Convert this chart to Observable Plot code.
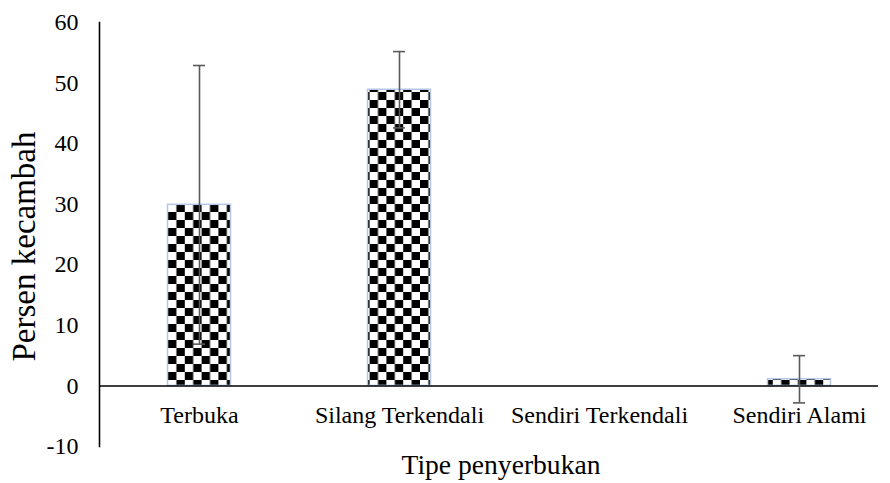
<!DOCTYPE html>
<html>
<head>
<meta charset="utf-8">
<script src="https://cdn.jsdelivr.net/npm/d3@7"></script>
<script src="https://cdn.jsdelivr.net/npm/@observablehq/plot@0.6"></script>
<style>
  html, body { margin: 0; padding: 0; background: #fff; }
  #chart svg { display: block; }
  #chart svg, #chart svg text { font-family: "Liberation Serif", "Times New Roman", serif !important; }
</style>
</head>
<body>
<div id="chart"></div>
<script>
const categories = ["Terbuka", "Silang Terkendali", "Sendiri Terkendali", "Sendiri Alami"];
const values = [29.9, 48.9, 0, 1.1];
const errors = [23.0, 6.3, 0, 3.9];
const yTicks = [-10, 0, 10, 20, 30, 40, 50, 60];
const xTitle = "Tipe penyerbukan";
const yTitle = "Persen kecambah";

const data = categories.map((c, i) => ({cat: c, v: values[i], e: errors[i]}));

const chart = Plot.plot({
  width: 890,
  height: 483,
  marginLeft: 99,
  marginRight: 12,
  marginTop: 22,
  marginBottom: 37,
  style: {fontSize: "24px", color: "#000", background: "#fff"},
  x: {domain: categories, range: [98.5, 898.5], padding: 0, axis: null},
  y: {domain: [-10, 60], ticks: yTicks, label: null},
  marks: [
    Plot.axisY({ticks: yTicks, tickSize: 0, tickPadding: 21, fontSize: 24, label: null, tickFormat: d => String(d)}),
    Plot.barY(data, {x: "cat", y: "v", fill: "url(#checker)", stroke: "#b4c7e7", strokeWidth: 1.5, insetLeft: 68.5, insetRight: 68.5}),
    Plot.ruleY([0], {stroke: "#000", strokeWidth: 1.6}),
    Plot.frame({anchor: "left", stroke: "#000", strokeWidth: 1.6}),
    Plot.ruleX(data, {filter: d => d.e > 0, x: "cat", y1: d => d.v - d.e, y2: d => d.v + d.e, stroke: "#595959", strokeWidth: 1.6}),
    Plot.tickY(data, {filter: d => d.e > 0, x: "cat", y: d => d.v + d.e, stroke: "#595959", strokeWidth: 1.6, insetLeft: 94, insetRight: 94}),
    Plot.tickY(data, {filter: d => d.e > 0, x: "cat", y: d => d.v - d.e, stroke: "#595959", strokeWidth: 1.6, insetLeft: 94, insetRight: 94}),
    Plot.text(data, {x: "cat", y: 0, text: "cat", dy: 29, fontSize: 24, fill: "#000"}),
    Plot.text([xTitle], {frameAnchor: "bottom", text: d => d, dy: 27, dx: 12, fontSize: 27.6, fill: "#000"}),
    Plot.text([yTitle], {frameAnchor: "left", textAnchor: "middle", text: d => d, rotate: -90, dx: -75, dy: 12, fontSize: 33, fill: "#000"})
  ]
});

// checkerboard pattern definition
const defs = d3.select(chart).insert("defs", ":first-child");
const pat = defs.append("pattern")
  .attr("id", "checker")
  .attr("patternUnits", "userSpaceOnUse")
  .attr("width", 16.8)
  .attr("height", 16)
  .attr("x", 0)
  .attr("y", 4);
pat.append("rect").attr("width", 16.8).attr("height", 16).attr("fill", "#fff");
pat.append("rect").attr("width", 8.4).attr("height", 8).attr("fill", "#000");
pat.append("rect").attr("x", 8.4).attr("y", 8).attr("width", 8.4).attr("height", 8).attr("fill", "#000");

document.getElementById("chart").appendChild(chart);
</script>
</body>
</html>
